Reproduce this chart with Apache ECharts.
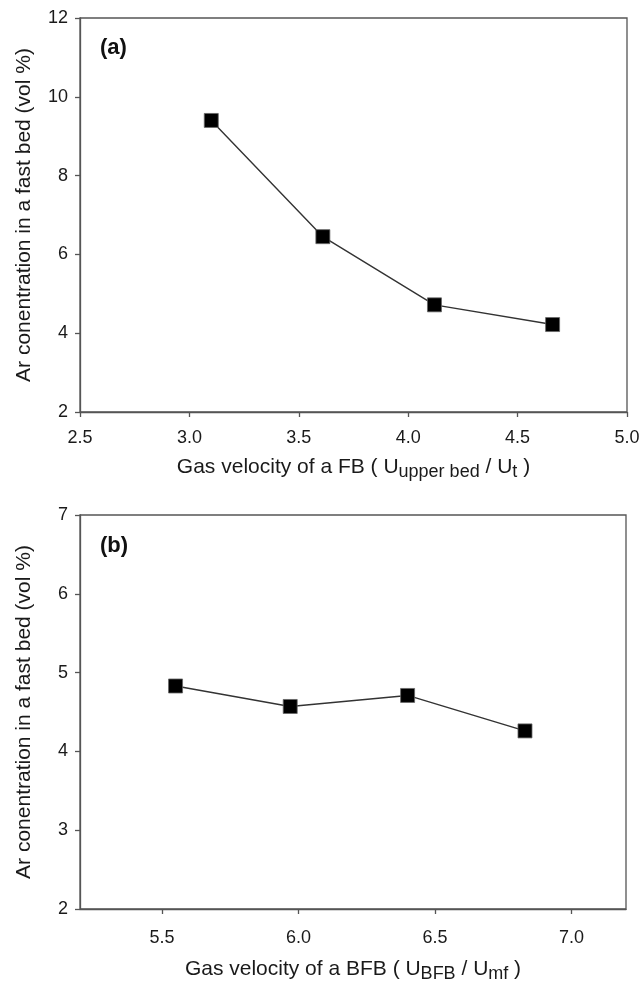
<!DOCTYPE html>
<html>
<head>
<meta charset="utf-8">
<title>Ar concentration in a fast bed</title>
<script src="https://cdn.jsdelivr.net/npm/echarts@6/dist/echarts.min.js"></script>
<style>
    html, body {margin: 0; padding: 0; background: #fff;}
    #main {width: 642px; height: 984px;}
</style>
</head>
<body>
<div id="main"></div>
<script>
//(a) FB
var fbVelocity = [3.10, 3.61, 4.12, 4.66];
var fbArConc = [9.40, 6.45, 4.72, 4.22];
var fbXTicks = [2.5, 3.0, 3.5, 4.0, 4.5, 5.0];
var fbYTicks = [2, 4, 6, 8, 10, 12];

//(b) BFB
var bfbVelocity = [5.55, 5.97, 6.40, 6.83];
var bfbArConc = [4.83, 4.57, 4.71, 4.26];
var bfbXTicks = [5.5, 6.0, 6.5, 7.0];
var bfbYTicks = [2, 3, 4, 5, 6, 7];

var FONT = '"Liberation Sans", Arial, sans-serif'
    , AXIS_COLOR = '#555'
    , TEXT_COLOR = '#1a1a1a'
    , yName = 'Ar conentration in a fast bed (vol %)';

function pairs(xs, ys) {
    return xs.map(function (x, i) { return [x, ys[i]]; });
}

function xAxisOf(gridIndex, min, max, ticks, name, gap, labelMargin) {
    return {
        type: 'value', gridIndex: gridIndex, min: min, max: max
        , name: name, nameLocation: 'middle', nameGap: gap
        , nameTextStyle: {
            fontFamily: FONT, fontSize: 21, color: TEXT_COLOR,
            rich: {
                t: {fontFamily: FONT, fontSize: 21, color: TEXT_COLOR, lineHeight: 24, verticalAlign: 'top'},
                s: {fontFamily: FONT, fontSize: 18, color: TEXT_COLOR, lineHeight: 24, padding: [7, 0, 0, 0]}
            }
        }
        , axisLine: {show: true, lineStyle: {color: AXIS_COLOR, width: 1.3}}
        , axisTick: {show: true, inside: false, length: 5, customValues: ticks, lineStyle: {color: AXIS_COLOR, width: 1.3}}
        , axisLabel: {
            customValues: ticks, margin: labelMargin, fontFamily: FONT, fontSize: 18, color: TEXT_COLOR,
            formatter: function (v) { return Number(v).toFixed(1); }
        }
        , splitLine: {show: false}
    };
}

function yAxisOf(gridIndex, min, max, ticks) {
    return {
        type: 'value', gridIndex: gridIndex, min: min, max: max
        , name: yName, nameLocation: 'middle', nameGap: 45, nameRotate: 90
        , nameTextStyle: {fontFamily: FONT, fontSize: 21, color: TEXT_COLOR}
        , axisLine: {show: true, lineStyle: {color: AXIS_COLOR, width: 1.3}}
        , axisTick: {show: true, inside: false, length: 5, customValues: ticks, lineStyle: {color: AXIS_COLOR, width: 1.3}}
        , axisLabel: {customValues: ticks, margin: 12, fontFamily: FONT, fontSize: 18, color: TEXT_COLOR}
        , splitLine: {show: false}
    };
}

function seriesOf(idx, data) {
    return {
        type: 'line', xAxisIndex: idx, yAxisIndex: idx
        , data: data
        , symbol: 'rect', symbolSize: 14
        , lineStyle: {color: '#333', width: 1.4}
        , itemStyle: {color: '#000', borderColor: '#666', borderWidth: 0.8}
        , animation: false
    };
}

var chart = echarts.init(document.getElementById('main'), null, {renderer: 'canvas'});

chart.setOption({
    backgroundColor: '#fff'
    , animation: false
    , title: [
        {text: '(a)', left: 95, top: 32, textStyle: {fontFamily: FONT, fontSize: 22, fontWeight: 'bold', color: '#111'}}
        , {text: '(b)', left: 95, top: 530, textStyle: {fontFamily: FONT, fontSize: 22, fontWeight: 'bold', color: '#111'}}
    ]
    , grid: [
        {left: 80, right: 15, top: 18, height: 394, outerBoundsMode: 'none', show: true, borderColor: AXIS_COLOR, borderWidth: 1.3, backgroundColor: 'transparent'}
        , {left: 80, right: 16, top: 515, height: 394, outerBoundsMode: 'none', show: true, borderColor: AXIS_COLOR, borderWidth: 1.3, backgroundColor: 'transparent'}
    ]
    , xAxis: [
        xAxisOf(0, 2.5, 5.0, fbXTicks, '{t|Gas velocity of a FB ( U}{s|upper bed}{t| / U}{s|t}{t| )}', 45, 17)
        , xAxisOf(1, 5.2, 7.2, bfbXTicks, '{t|Gas velocity of a BFB ( U}{s|BFB}{t| / U}{s|mf}{t| )}', 50, 20)
    ]
    , yAxis: [
        yAxisOf(0, 2, 12, fbYTicks)
        , yAxisOf(1, 2, 7, bfbYTicks)
    ]
    , series: [
        seriesOf(0, pairs(fbVelocity, fbArConc))
        , seriesOf(1, pairs(bfbVelocity, bfbArConc))
    ]
});
</script>
</body>
</html>
